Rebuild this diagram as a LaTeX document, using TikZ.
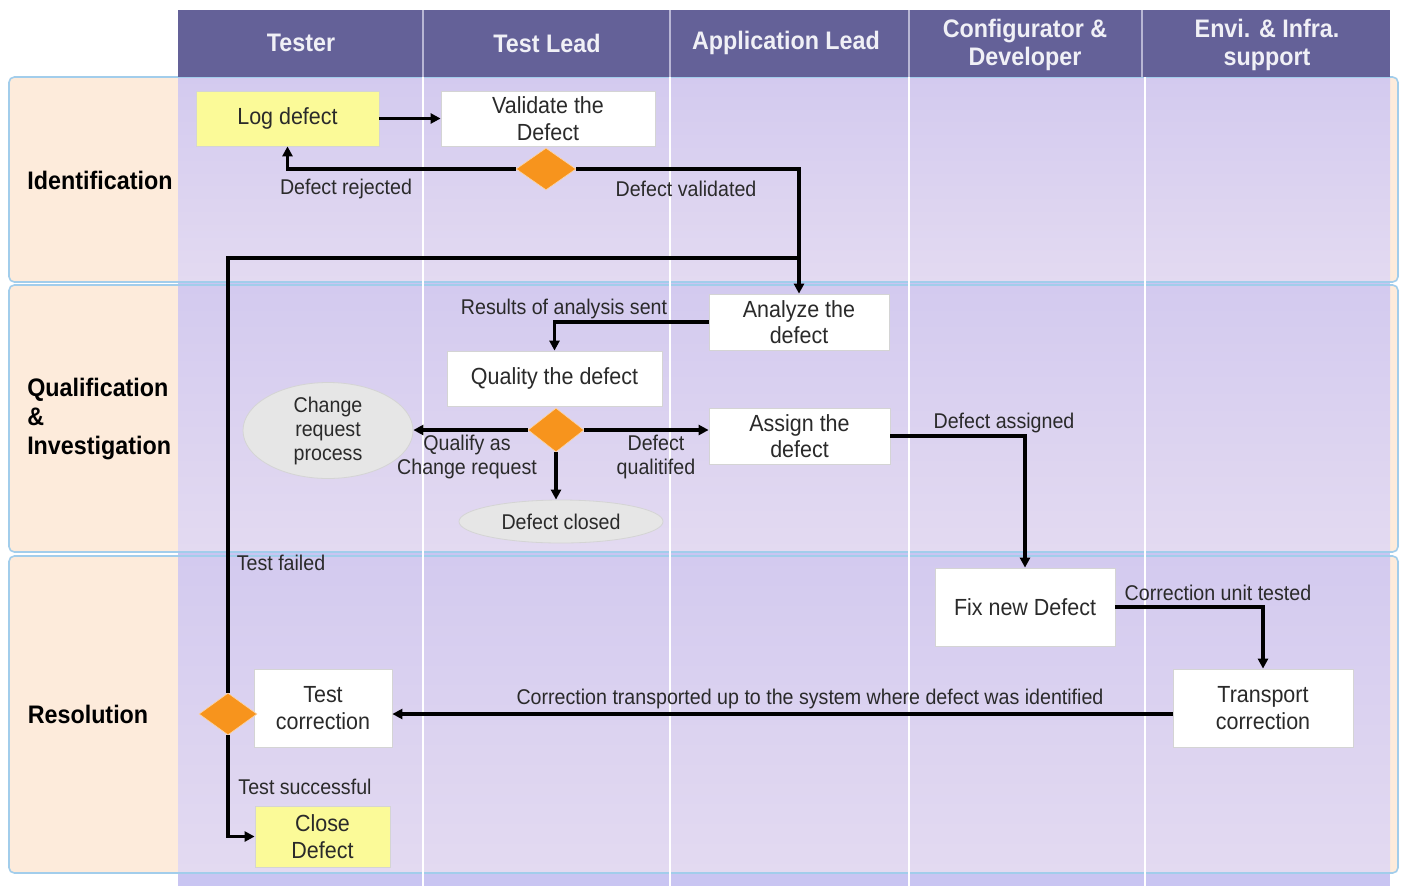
\documentclass[tikz,border=0pt]{standalone}
\usepackage{fontspec}
\setmainfont[FakeStretch=0.92]{Liberation Sans}
\usetikzlibrary{shapes.geometric,arrows.meta}
\definecolor{hdr}{HTML}{646198}
\definecolor{hdrline}{HTML}{B8B6D4}
\definecolor{hdrtext}{HTML}{F0F0F6}
\definecolor{colband}{HTML}{C9C5F2}
\definecolor{peach}{HTML}{FDEBDB}
\definecolor{rowline}{HTML}{A2CDEB}
\definecolor{lavtop}{HTML}{D3CAEF}
\definecolor{lavbot}{HTML}{E3DAF1}
\definecolor{boxline}{HTML}{D4D4D4}
\definecolor{yel}{HTML}{FBFA98}
\definecolor{dorange}{HTML}{F7941D}
\definecolor{ellfill}{HTML}{E6E6E6}
\definecolor{txt}{HTML}{2A2A2A}
\tikzset{
  boxtext/.style={font=\fontsize{17.5}{20}\selectfont, text=txt, align=center},
  wbox/.style={rectangle, draw=boxline, line width=0.6pt, fill=white, inner sep=0pt, boxtext},
  ybox/.style={rectangle, draw=boxline, line width=0.6pt, fill=yel, inner sep=0pt, boxtext},
  dia/.style={diamond, fill=dorange, draw=dorange!40!white, line width=0.5pt, inner sep=0pt},
  ell/.style={ellipse, fill=ellfill, draw=boxline, line width=0.6pt, inner sep=0pt, font=\fontsize{16}{18}\selectfont, text=txt, align=center},
  lbl/.style={font=\fontsize{16}{18}\selectfont, text=txt, align=center, inner sep=0pt},
  hdrtxt/.style={font=\bfseries\fontsize{19}{21}\selectfont, text=hdrtext, align=center, inner sep=0pt},
  lanetxt/.style={font=\bfseries\fontsize{19}{21.5}\selectfont, text=black, align=left, inner sep=0pt},
  plain/.style={line width=2.4pt, draw=black},
  conn/.style={plain, -{Triangle[length=7.5pt,width=7.5pt]}}
}
\begin{document}
\begin{tikzpicture}[x=0.75pt,y=-0.75pt]
\useasboundingbox (0,0) rectangle (1402,886);
\fill[white] (0,0) rectangle (1402,886);
% column band
\fill[colband] (178,77) rectangle (1390,886);
% rows
\foreach \a/\b in {77/282,285/552,556/873}{
  \fill[peach, rounded corners=4pt] (9,\a) rectangle (1398,\b);
  \shade[top color=lavtop, bottom color=lavbot] (178,\a) rectangle (1390,\b);
  \draw[rowline, line width=1.2pt, rounded corners=4pt] (9,\a) rectangle (1398,\b);
}
% column dividers
\foreach \x in {423,670,909,1145}{
  \draw[white, line width=0.8pt] (\x,77) -- (\x,886);
}
% header
\fill[hdr] (178,10) rectangle (1390,77);
\foreach \x in {423,670,909,1142}{
  \draw[hdrline, line width=0.8pt] (\x,10) -- (\x,77);
}
\node[hdrtxt] (h1) at (301,43) {Tester};
\node[hdrtxt] (h2) at (547,43) {Test Lead};
\node[hdrtxt] (h3) at (786,43) {Application Lead};
\node[hdrtxt] (h4) at (1025,45) {Configurator \&\\Developer};
\node[hdrtxt] (h5) at (1267,45) {Envi. \& Infra.\\support};
% lane labels
\node[lanetxt] (lane1) at (100,180) {Identification};
\node[lanetxt, anchor=west] (lane2) at (27,419) {Qualification\\\&\\Investigation};
\node[lanetxt] (lane3) at (88,714) {Resolution};
% nodes
\node[ybox, minimum width=137.25pt, minimum height=41.25pt] (log) at (287.5,118.5) {Log defect};
\node[wbox, minimum width=160.5pt, minimum height=41.25pt] (validate) at (548,118.5) {Validate the\\Defect};
\node[dia, minimum width=45pt, minimum height=31.5pt] (d1) at (546,169) {};
\node[wbox, minimum width=135pt, minimum height=42pt] (analyze) at (799,322) {Analyze the\\defect};
\node[wbox, minimum width=161.25pt, minimum height=41.25pt] (quality) at (554.5,378.5) {Quality the defect};
\node[dia, minimum width=42pt, minimum height=33pt] (d2) at (556,430) {};
\node[ell, minimum width=127.5pt, minimum height=66.75pt] (cr) at (328,430.5) {Change\\request\\process};
\node[ell, minimum width=153pt, minimum height=32.25pt] (closed) at (561,521.5) {Defect closed};
\node[wbox, minimum width=135.75pt, minimum height=42pt] (assign) at (799.5,436) {Assign the\\defect};
\node[wbox, minimum width=135pt, minimum height=58.5pt] (fix) at (1025,607) {Fix new Defect};
\node[wbox, minimum width=135pt, minimum height=58.5pt] (transport) at (1263,708) {Transport\\correction};
\node[wbox, minimum width=103.5pt, minimum height=58.5pt] (testc) at (323,708) {Test\\correction};
\node[dia, minimum width=43.5pt, minimum height=31.5pt] (d3) at (228,714) {};
\node[ybox, minimum width=101.25pt, minimum height=45.75pt] (close) at (322.5,836.5) {Close\\Defect};
% edge labels
\node[lbl] (l1) at (346,189) {Defect rejected};
\node[lbl] (l2) at (686,189) {Defect validated};
\node[lbl] (l3) at (564,309) {Results of analysis sent};
\node[lbl] (l4) at (467,457) {Qualify as\\Change request};
\node[lbl] (l5) at (656,457) {Defect\\qualitifed};
\node[lbl] (l6) at (1004,423) {Defect assigned};
\node[lbl] (l7) at (1218,593) {Correction unit tested};
\node[lbl] (l8) at (810,699) {Correction transported up to the system where defect was identified};
\node[lbl] (l9) at (281,563) {Test failed};
\node[lbl] (l10) at (305,787) {Test successful};
% connectors
\coordinate (tf) at (799,258);
\draw[conn] (log.east) -- (validate.west);
\draw[conn] (d1.west) -| (log.south);
\draw[conn] (d1.east) -| (analyze.north);
\draw[plain] (d3.north) |- (tf);
\draw[conn] (analyze.west) -| (quality.north);
\draw[conn] (d2.west) -- (d2.west -| cr.east);
\draw[conn] (d2.east) -- (d2.east -| assign.west);
\draw[conn] (d2.south) -- (d2.south |- closed.north);
\draw[conn] (assign.east) -| (fix.north);
\draw[conn] (fix.east) -| (transport.north);
\draw[conn] (transport.west |- d3) -- (testc.east |- d3);
\draw[conn] (d3.south) |- (close.west);
\end{tikzpicture}
\end{document}
